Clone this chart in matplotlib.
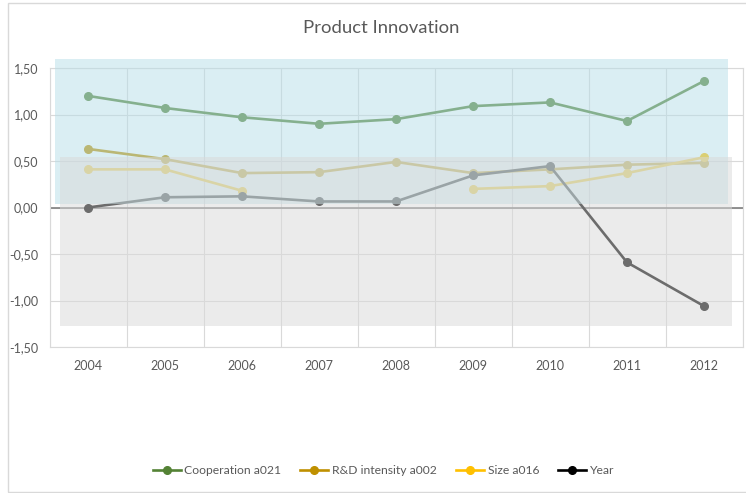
import numpy as np
import matplotlib as mpl
mpl.use('Agg')
import matplotlib.pyplot as plt
from matplotlib.patches import Rectangle
from matplotlib.ticker import FuncFormatter

mpl.rcParams['font.family'] = ['Lato', 'DejaVu Sans']

years = ['2004', '2005', '2006', '2007', '2008', '2009', '2010', '2011', '2012']
cooperation = [1.20, 1.07, 0.97, 0.90, 0.95, 1.09, 1.13, 0.93, 1.36]
rd_intensity = [0.63, 0.52, 0.37, 0.38, 0.49, 0.37, 0.41, 0.46, 0.48]
size = [0.41, 0.41, 0.18, np.nan, np.nan, 0.20, 0.23, 0.37, 0.54]
year_ser = [0.00, 0.11, 0.12, 0.065, 0.065, 0.345, 0.445, -0.59, -1.06]

series = [('Cooperation a021', cooperation, '#548235'),
          ('R&D intensity a002', rd_intensity, '#BF9000'),
          ('Size a016', size, '#FFC000'),
          ('Year', year_ser, '#000000')]

fig = plt.figure(figsize=(7.46, 4.93), dpi=100)
# outer chart frame
fig.patches.append(Rectangle((8/746, 1-492/493), 740/746, 489/493, transform=fig.transFigure,
                             fill=False, ec='#d9d9d9', lw=1))
ax = fig.add_axes([49.5/746, 1-347/493, 693/746, 279/493])

x = np.arange(len(years))
for lab, vals, col in series:
    ax.plot(x, vals, color=col, lw=1.9, marker='o', ms=5.5, label=lab, zorder=3)

ax.set_xlim(-0.5, 8.5)
ax.set_ylim(-1.5, 1.5)
ax.set_yticks(np.arange(-1.5, 1.51, 0.5))
ax.yaxis.set_major_formatter(FuncFormatter(lambda v, p: ('%.2f' % v).replace('.', ',')))
ax.set_xticks(x)
ax.set_xticklabels(years)
ax.set_xticks(np.arange(-0.5, 8.6, 1), minor=True)
ax.tick_params(which='both', length=0, labelsize=9, colors='#595959', pad=8)
ax.tick_params(axis='x', pad=9)
ax.grid(False)
ax.yaxis.grid(True, color='#d9d9d9', lw=0.8, zorder=0)
ax.xaxis.grid(True, which='minor', color='#d9d9d9', lw=0.8, zorder=0)
for s in ax.spines.values():
    s.set_color('#d9d9d9')
    s.set_linewidth(0.8)
ax.axhline(0, color='#7f7f7f', lw=1.2, zorder=2)

# semi-transparent overlay boxes
ax.add_patch(Rectangle((-0.43, 0.04), 8.74, 1.56, fc='#b7dee8', alpha=0.5, ec='none',
                       zorder=5, clip_on=False))
ax.add_patch(Rectangle((-0.364, -1.27), 8.724, 1.81, fc='#d9d9d9', alpha=0.5, ec='none',
                       zorder=6, clip_on=False))

fig.text(381/746, 1-28/493, 'Product Innovation', ha='center', va='center',
         fontsize=13.3, color='#595959')

leg = fig.legend(loc='center', bbox_to_anchor=(383.5/746, 1-471/493), ncol=4, frameon=False,
                 fontsize=8.7, handlelength=2.3, handletextpad=0.3, columnspacing=1.6,
                 labelcolor='#595959')

fig.savefig('out.png', dpi=100)
